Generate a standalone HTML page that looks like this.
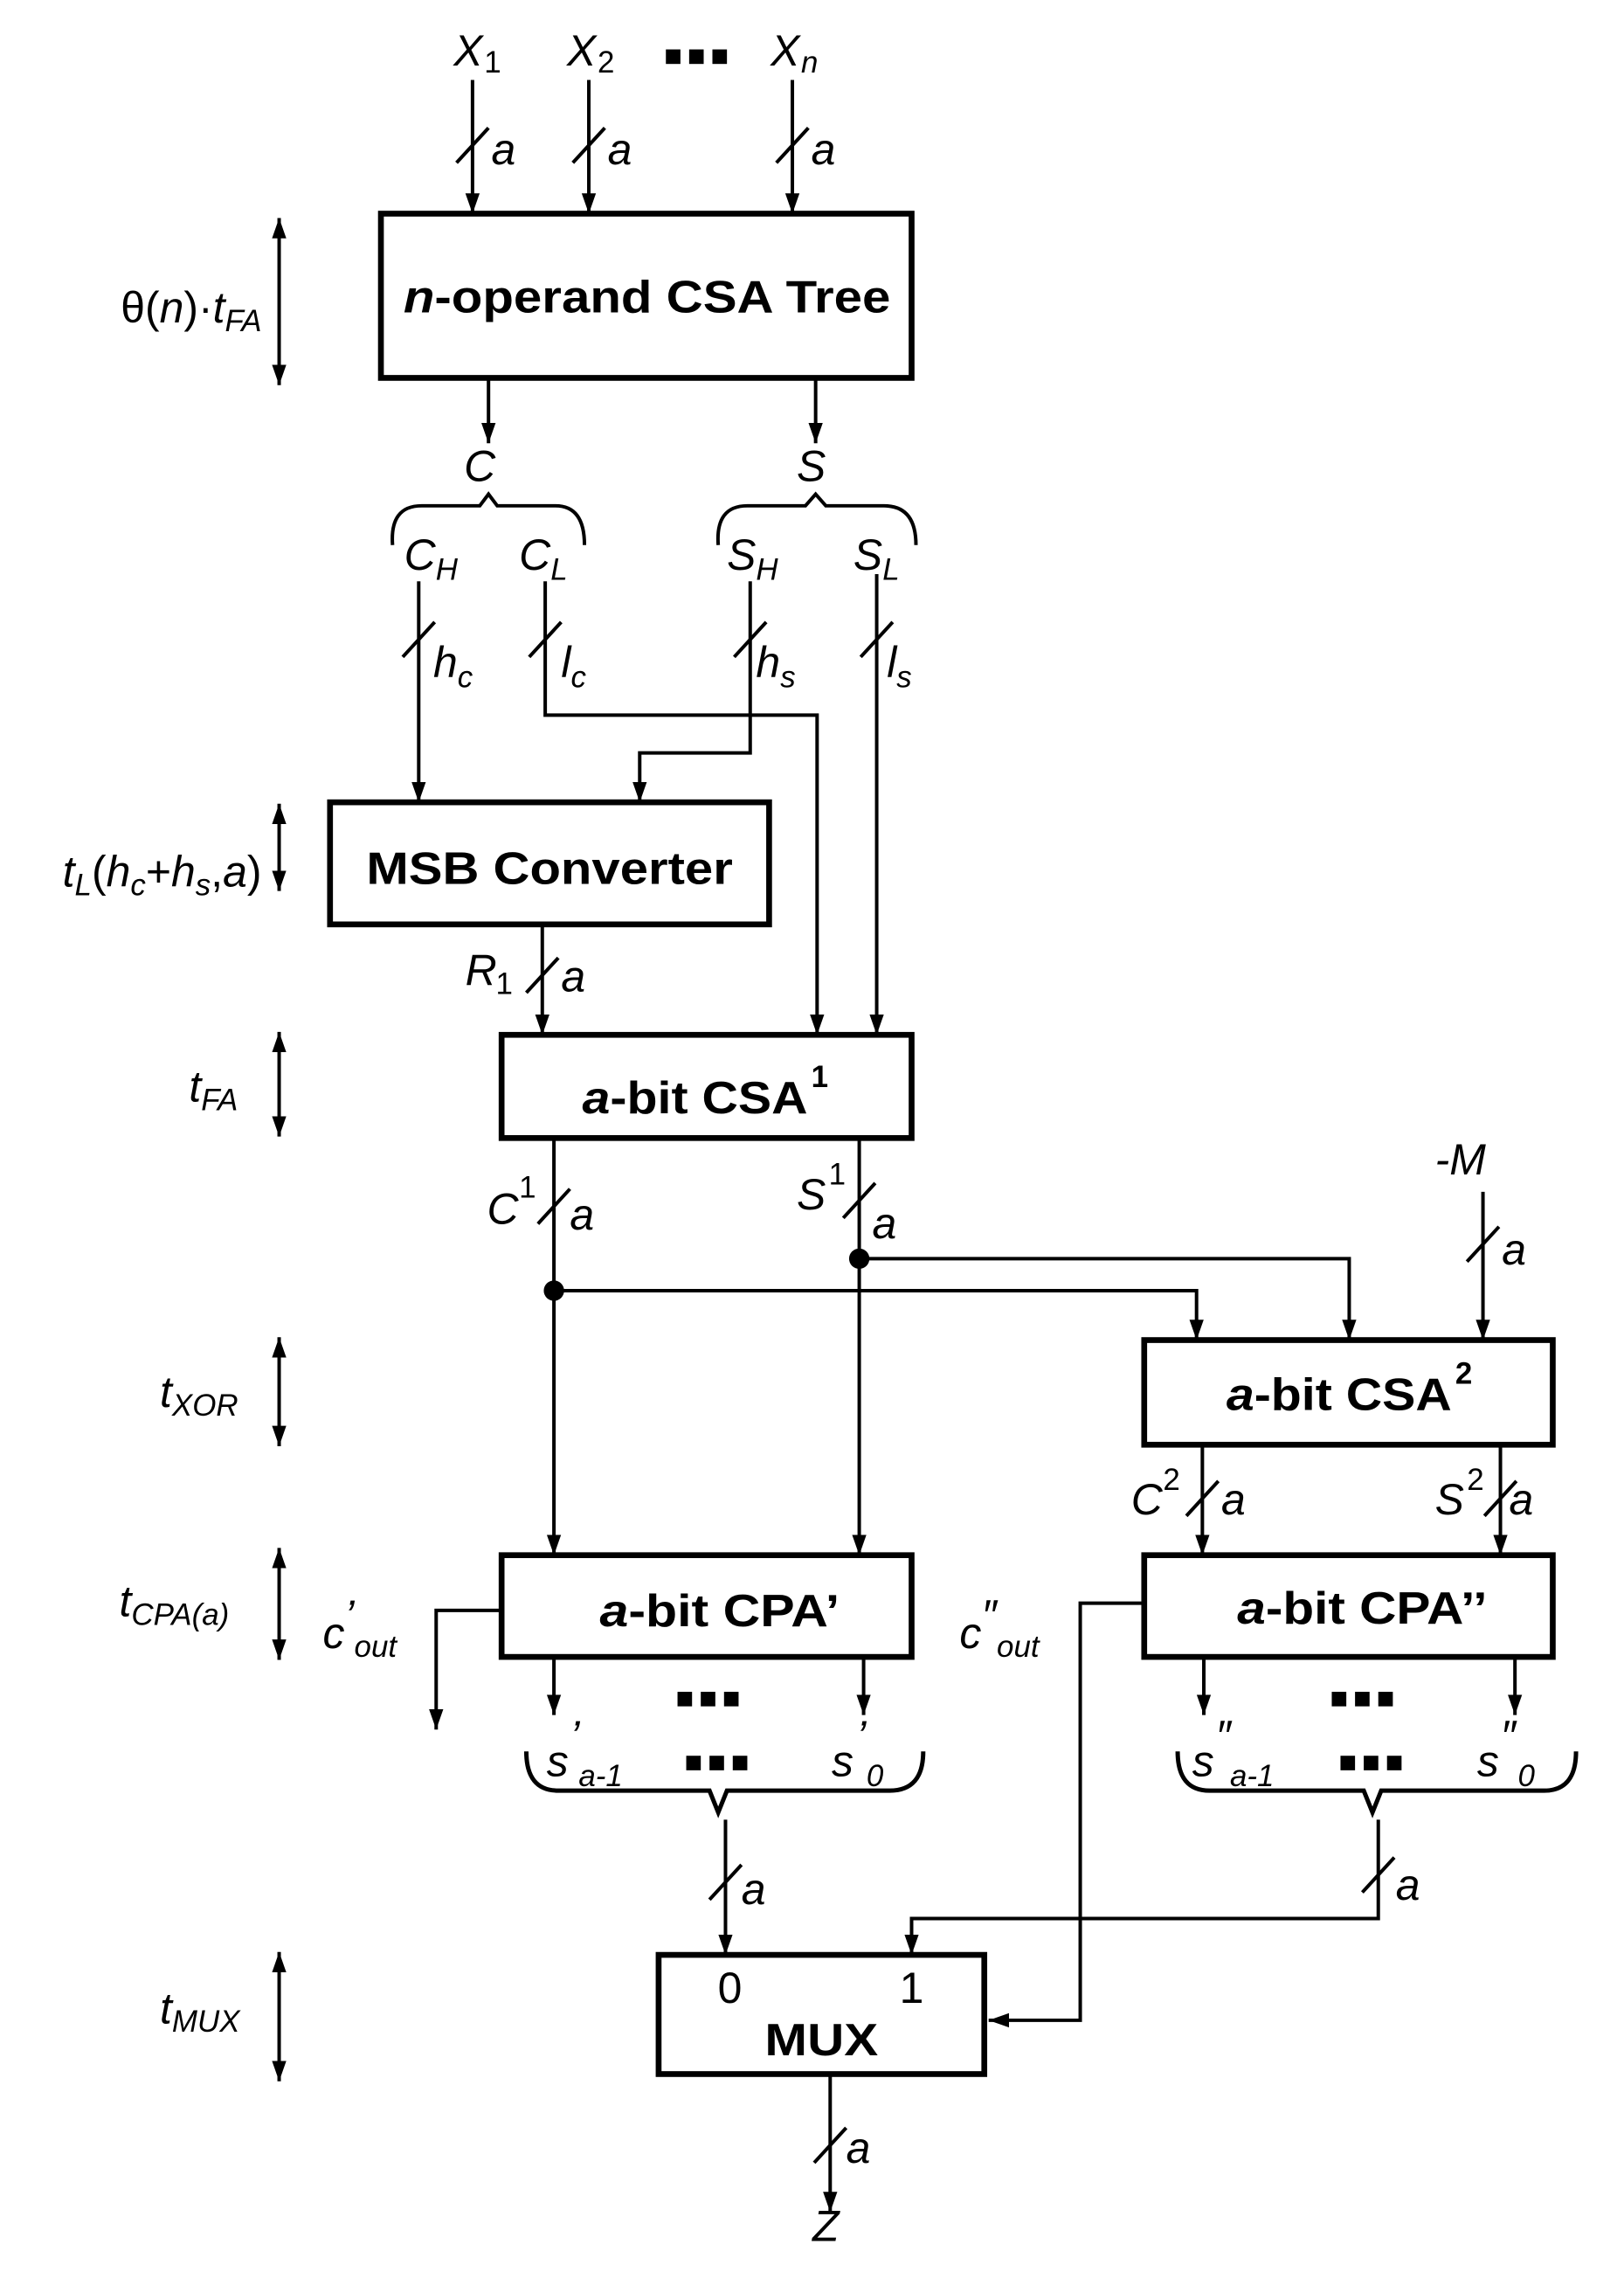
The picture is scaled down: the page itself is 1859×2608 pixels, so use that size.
<!DOCTYPE html>
<html><head><meta charset="utf-8"><style>
html,body{margin:0;padding:0;background:#fff}
svg{display:block}
text{font-family:"Liberation Sans",sans-serif;fill:#000}
.i{font-style:italic;font-size:30px}
.b{font-weight:bold;font-size:31px}
.s{font-size:21px;font-style:italic}
</style></head><body>
<svg width="1859" height="2608" viewBox="0 0 1117 1568" preserveAspectRatio="none" xmlns="http://www.w3.org/2000/svg">
<defs>
<marker id="ar" viewBox="0 0 10 10" refX="10" refY="5" markerWidth="14" markerHeight="14" markerUnits="userSpaceOnUse" orient="auto"><path d="M0,1.5 L10,5 L0,8.5 z" fill="#000"/></marker>
<marker id="as" viewBox="0 0 10 10" refX="0" refY="5" markerWidth="14" markerHeight="14" markerUnits="userSpaceOnUse" orient="auto"><path d="M10,1.5 L0,5 L10,8.5 z" fill="#000"/></marker>
</defs>
<g stroke="#000" stroke-width="2.4" fill="none">
<line x1="325" y1="55" x2="325" y2="147" marker-end="url(#ar)"/>
<line x1="405" y1="55" x2="405" y2="147" marker-end="url(#ar)"/>
<line x1="545" y1="55" x2="545" y2="147" marker-end="url(#ar)"/>
<line x1="314" y1="112" x2="336" y2="88"/>
<line x1="394" y1="112" x2="416" y2="88"/>
<line x1="534" y1="112" x2="556" y2="88"/>
<line x1="192" y1="150" x2="192" y2="265" marker-start="url(#as)" marker-end="url(#ar)"/>
<line x1="192" y1="553" x2="192" y2="613" marker-start="url(#as)" marker-end="url(#ar)"/>
<line x1="192" y1="710" x2="192" y2="782" marker-start="url(#as)" marker-end="url(#ar)"/>
<line x1="192" y1="920" x2="192" y2="995" marker-start="url(#as)" marker-end="url(#ar)"/>
<line x1="192" y1="1065" x2="192" y2="1142" marker-start="url(#as)" marker-end="url(#ar)"/>
<line x1="192" y1="1343" x2="192" y2="1432" marker-start="url(#as)" marker-end="url(#ar)"/>
<line x1="336" y1="260" x2="336" y2="305" marker-end="url(#ar)"/>
<line x1="561" y1="260" x2="561" y2="305" marker-end="url(#ar)"/>
<path d="M270,375 Q268,348 290,348 L330,348 L336,340 L342,348 L382,348 Q402,348 402,375"/>
<path d="M494,375 Q492,348 514,348 L554,348 L561,340 L568,348 L608,348 Q630,348 630,375"/>
<line x1="288" y1="400" x2="288" y2="552" marker-end="url(#ar)"/>
<polyline points="375,400 375,492 562,492 562,712" marker-end="url(#ar)"/>
<polyline points="516,400 516,518 440,518 440,552" marker-end="url(#ar)"/>
<line x1="603" y1="395" x2="603" y2="712" marker-end="url(#ar)"/>
<line x1="277" y1="452" x2="299" y2="428"/>
<line x1="364" y1="452" x2="386" y2="428"/>
<line x1="505" y1="452" x2="527" y2="428"/>
<line x1="592" y1="452" x2="614" y2="428"/>
<line x1="373" y1="636" x2="373" y2="712" marker-end="url(#ar)"/>
<line x1="362" y1="683" x2="384" y2="659"/>
<line x1="381" y1="783" x2="381" y2="1070" marker-end="url(#ar)"/>
<line x1="591" y1="783" x2="591" y2="1070" marker-end="url(#ar)"/>
<line x1="370" y1="842" x2="392" y2="818"/>
<line x1="580" y1="838" x2="602" y2="814"/>
<polyline points="591,866 928,866 928,922" marker-end="url(#ar)"/>
<polyline points="381,888 823,888 823,922" marker-end="url(#ar)"/>
<line x1="1020" y1="820" x2="1020" y2="922" marker-end="url(#ar)"/>
<line x1="1009" y1="868" x2="1031" y2="844"/>
<line x1="827" y1="994" x2="827" y2="1070" marker-end="url(#ar)"/>
<line x1="1032" y1="994" x2="1032" y2="1070" marker-end="url(#ar)"/>
<line x1="816" y1="1043" x2="838" y2="1019"/>
<line x1="1021" y1="1043" x2="1043" y2="1019"/>
<polyline points="345,1108 300,1108 300,1190" marker-end="url(#ar)"/>
<line x1="381" y1="1140" x2="381" y2="1180" marker-end="url(#ar)"/>
<line x1="594" y1="1140" x2="594" y2="1180" marker-end="url(#ar)"/>
<line x1="828" y1="1140" x2="828" y2="1180" marker-end="url(#ar)"/>
<line x1="1042" y1="1140" x2="1042" y2="1180" marker-end="url(#ar)"/>
<path d="M362,1205 Q362,1232 384,1232 L488,1232 L494,1247 L500,1232 L612,1232 Q635,1232 635,1205" stroke-width="3"/>
<path d="M810,1205 Q810,1232 832,1232 L938,1232 L944,1247 L950,1232 L1062,1232 Q1084,1232 1084,1205" stroke-width="3"/>
<line x1="499" y1="1252" x2="499" y2="1345" marker-end="url(#ar)"/>
<line x1="488" y1="1307" x2="510" y2="1283"/>
<polyline points="948,1252 948,1320 627,1320 627,1345" marker-end="url(#ar)"/>
<line x1="937" y1="1302" x2="959" y2="1278"/>
<polyline points="787,1103 743,1103 743,1390 680,1390" marker-end="url(#ar)"/>
<line x1="571" y1="1427" x2="571" y2="1522" marker-end="url(#ar)"/>
<line x1="560" y1="1488" x2="582" y2="1464"/>
</g>
<circle cx="381" cy="888" r="7" fill="#000"/>
<circle cx="591" cy="866" r="7" fill="#000"/>
<g stroke="#000" stroke-width="4" fill="none">
<rect x="262" y="147" width="365" height="113"/>
<rect x="227" y="552" width="302" height="84"/>
<rect x="345" y="712" width="282" height="71"/>
<rect x="787" y="922" width="281" height="72"/>
<rect x="345" y="1070" width="282" height="70"/>
<rect x="787" y="1070" width="281" height="70"/>
<rect x="453" y="1345" width="224" height="82"/>
</g>
<text class="b" x="445" y="215" text-anchor="middle" textLength="335" lengthAdjust="spacingAndGlyphs"><tspan font-style="italic">n</tspan>-operand CSA Tree</text>
<text class="b" x="378" y="608" text-anchor="middle" textLength="252" lengthAdjust="spacingAndGlyphs">MSB Converter</text>
<text class="b" x="478" y="766" text-anchor="middle" textLength="155" lengthAdjust="spacingAndGlyphs"><tspan font-style="italic">a</tspan>-bit CSA</text><text x="558" y="748" font-weight="bold" font-size="21">1</text>
<text class="b" x="921" y="970" text-anchor="middle" textLength="155" lengthAdjust="spacingAndGlyphs"><tspan font-style="italic">a</tspan>-bit CSA</text><text x="1001" y="952" font-weight="bold" font-size="21">2</text>
<text class="b" x="495" y="1119" text-anchor="middle" textLength="165" lengthAdjust="spacingAndGlyphs"><tspan font-style="italic">a</tspan>-bit CPA’</text>
<text class="b" x="937" y="1117" text-anchor="middle" textLength="172" lengthAdjust="spacingAndGlyphs"><tspan font-style="italic">a</tspan>-bit CPA’’</text>
<text class="b" x="565" y="1414" text-anchor="middle" textLength="78" lengthAdjust="spacingAndGlyphs">MUX</text>
<text x="502" y="1378" font-size="30" text-anchor="middle">0</text>
<text x="627" y="1378" font-size="30" text-anchor="middle">1</text>
<text class="i" x="312" y="45">X</text><text x="333" y="50" font-size="21">1</text>
<text class="i" x="390" y="45">X</text><text x="411" y="50" font-size="21">2</text>
<rect x="458" y="34" width="10" height="10"/><rect x="474" y="34" width="10" height="10"/><rect x="490" y="34" width="10" height="10"/>
<text class="i" x="530" y="45">X</text><text class="s" x="551" y="50">n</text>
<text class="i" x="338" y="113">a</text><text class="i" x="418" y="113">a</text><text class="i" x="558" y="113">a</text>
<text class="i" x="180" y="222" text-anchor="end"><tspan font-style="normal">θ(</tspan>n<tspan font-style="normal">)·</tspan>t<tspan font-size="21" dy="6">FA</tspan></text>
<text class="i" x="330" y="331" text-anchor="middle">C</text>
<text class="i" x="558" y="331" text-anchor="middle">S</text>
<text class="i" x="278" y="392">C<tspan font-size="21" dy="7">H</tspan></text>
<text class="i" x="357" y="392">C<tspan font-size="21" dy="7">L</tspan></text>
<text class="i" x="500" y="392">S<tspan font-size="21" dy="7">H</tspan></text>
<text class="i" x="587" y="392">S<tspan font-size="21" dy="7">L</tspan></text>
<text class="i" x="298" y="466">h<tspan font-size="21" dy="7">c</tspan></text>
<text class="i" x="386" y="466">l<tspan font-size="21" dy="7">c</tspan></text>
<text class="i" x="520" y="466">h<tspan font-size="21" dy="7">s</tspan></text>
<text class="i" x="610" y="466">l<tspan font-size="21" dy="7">s</tspan></text>
<text class="i" x="180" y="610" text-anchor="end">t<tspan font-size="21" dy="6">L</tspan><tspan dy="-6" font-style="normal">(</tspan>h<tspan font-size="21" dy="6">c</tspan><tspan dy="-6" font-style="normal">+</tspan>h<tspan font-size="21" dy="6">s</tspan><tspan dy="-6" font-style="normal">,</tspan>a<tspan font-style="normal">)</tspan></text>
<text class="i" x="320" y="678">R</text><text x="341" y="684" font-size="21">1</text>
<text class="i" x="386" y="682">a</text>
<text class="i" x="130" y="758">t<tspan font-size="21" dy="6">FA</tspan></text>
<text class="i" x="335" y="842">C</text><text x="357" y="824" font-size="21">1</text>
<text class="i" x="392" y="846">a</text>
<text class="i" x="548" y="832">S</text><text x="570" y="815" font-size="21">1</text>
<text class="i" x="600" y="852">a</text>
<text class="i" x="987" y="808">-M</text>
<text class="i" x="1033" y="870">a</text>
<text class="i" x="110" y="968">t<tspan font-size="21" dy="6">XOR</tspan></text>
<text class="i" x="778" y="1042">C</text><text x="800" y="1025" font-size="21">2</text>
<text class="i" x="840" y="1042">a</text>
<text class="i" x="987" y="1042">S</text><text x="1009" y="1025" font-size="21">2</text>
<text class="i" x="1038" y="1042">a</text>
<text class="i" x="82" y="1112">t<tspan font-size="21" dy="6">CPA(a)</tspan></text>
<text class="i" x="222" y="1134">c<tspan dy="-12">’</tspan><tspan font-size="21" dy="18">out</tspan></text>
<text class="i" x="660" y="1134">c<tspan dy="-12">″</tspan><tspan font-size="21" dy="18">out</tspan></text>
<text class="i" x="110" y="1392">t<tspan font-size="21" dy="6">MUX</tspan></text>
<g fill="#000">
<rect x="466" y="1164" width="10" height="10"/><rect x="482" y="1164" width="10" height="10"/><rect x="498" y="1164" width="10" height="10"/>
<rect x="472" y="1208" width="10" height="10"/><rect x="488" y="1208" width="10" height="10"/><rect x="504" y="1208" width="10" height="10"/>
<rect x="916" y="1164" width="10" height="10"/><rect x="932" y="1164" width="10" height="10"/><rect x="948" y="1164" width="10" height="10"/>
<rect x="922" y="1208" width="10" height="10"/><rect x="938" y="1208" width="10" height="10"/><rect x="954" y="1208" width="10" height="10"/>
</g>
<text class="i" x="376" y="1222">s</text><text class="i" x="392" y="1205">’</text><text class="s" x="398" y="1229">a-1</text>
<text class="i" x="572" y="1222">s</text><text class="i" x="589" y="1205">’</text><text class="s" x="596" y="1229">0</text>
<text class="i" x="820" y="1222">s</text><text class="i" x="836" y="1205">″</text><text class="s" x="846" y="1229">a-1</text>
<text class="i" x="1016" y="1222">s</text><text class="i" x="1032" y="1205">″</text><text class="s" x="1044" y="1229">0</text>
<text class="i" x="510" y="1310">a</text>
<text class="i" x="960" y="1307">a</text>
<text class="i" x="582" y="1488">a</text>
<text class="i" x="568" y="1542" text-anchor="middle">Z</text>
</svg>
</body></html>
